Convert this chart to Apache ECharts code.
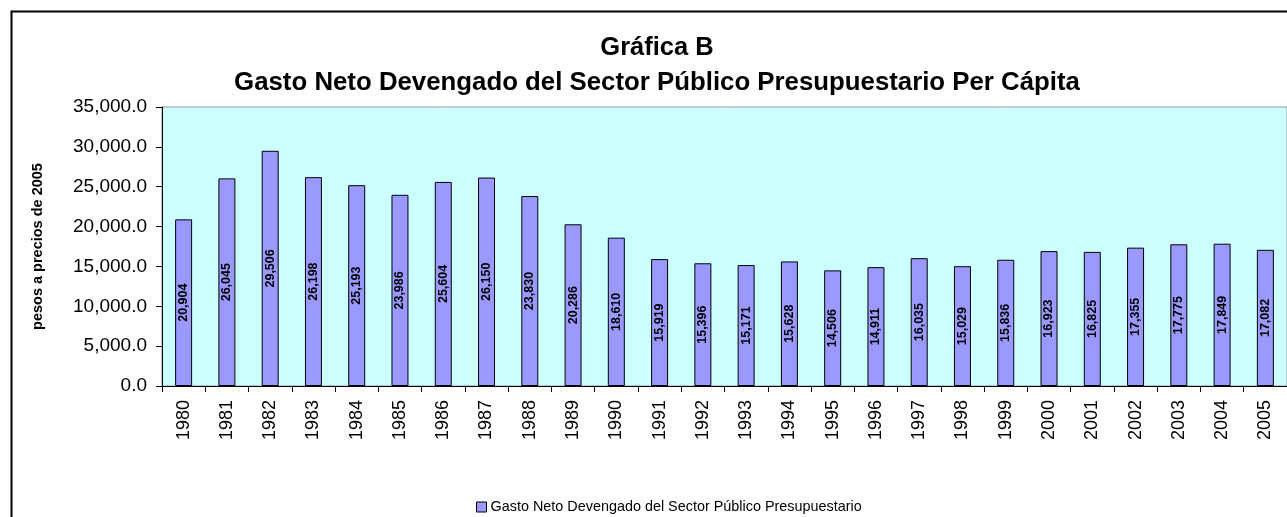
<!DOCTYPE html>
<html>
<head>
<meta charset="utf-8">
<script src="https://cdn.jsdelivr.net/npm/echarts@6/dist/echarts.min.js"></script>
<style>
html,body{margin:0;padding:0;background:#fff;}
#c{width:1287px;height:517px;}
</style>
</head>
<body>
<div id="c"></div>
<script>
const categories = ['1980','1981','1982','1983','1984','1985','1986','1987','1988','1989','1990','1991','1992','1993','1994','1995','1996','1997','1998','1999','2000','2001','2002','2003','2004','2005'];
const values = [20904,26045,29506,26198,25193,23986,25604,26150,23830,20286,18610,15919,15396,15171,15628,14506,14911,16035,15029,15836,16923,16825,17355,17775,17849,17082];
const seriesName = 'Gasto Neto Devengado del Sector Público Presupuestario';
const titleLine1 = 'Gráfica B';
const titleLine2 = 'Gasto Neto Devengado del Sector Público Presupuestario Per Cápita';
const yAxisName = 'pesos a precios de 2005';

const chart = echarts.init(document.getElementById('c'), null, {renderer:'canvas'});
const FONT = 'Liberation Sans, Arial, sans-serif';
chart.setOption({
  animation:false,
  backgroundColor:'#ffffff',
  textStyle:{fontFamily:FONT},
  graphic:[{
    type:'rect', left:9, top:9, shape:{x:0,y:0,width:1300,height:530},
    style:{fill:'none', stroke:'#000', lineWidth:2}, z:100, silent:true
  }],
  title:[
    {text:titleLine1, left:652, top:30, textAlign:'center',
     textStyle:{fontFamily:FONT,fontWeight:'bold',fontSize:25.5,color:'#000'}},
    {text:titleLine2, left:652, top:65, textAlign:'center',
     textStyle:{fontFamily:FONT,fontWeight:'bold',fontSize:25.8,color:'#000'}}
  ],
  legend:{
    data:[seriesName], top:495, left:471, itemWidth:10, itemHeight:10, itemGap:4,
    icon:'rect',
    textStyle:{fontFamily:FONT,fontSize:14.4,color:'#000',padding:[0,0,0,-1]},
    itemStyle:{borderColor:'#000',borderWidth:1}
  },
  grid:{left:162, top:107, width:1126, bottom:131, show:true, backgroundColor:'#CCFFFF',
        borderColor:'#999', borderWidth:1, containLabel:false},
  xAxis:{
    type:'category', data:categories, boundaryGap:true,
    axisLine:{lineStyle:{color:'#000',width:1}},
    axisTick:{show:true, alignWithLabel:false, length:6, lineStyle:{color:'#000'}},
    axisLabel:{rotate:90, margin:14, fontFamily:FONT, fontSize:18, color:'#000'}
  },
  yAxis:{
    type:'value', min:0, max:35000, interval:5000,
    name:yAxisName, nameLocation:'middle', nameGap:117, nameRotate:90,
    nameTextStyle:{fontFamily:FONT,fontWeight:'bold',fontSize:14.5,color:'#000'},
    axisLine:{show:true, lineStyle:{color:'#000',width:1}},
    axisTick:{show:true, length:6, lineStyle:{color:'#000'}},
    splitLine:{show:false},
    axisLabel:{margin:15, fontFamily:FONT, fontSize:19, color:'#000',
      formatter:v=>v.toLocaleString('en-US',{minimumFractionDigits:1,maximumFractionDigits:1})}
  },
  series:[{
    name:seriesName, type:'bar', data:values, barWidth:17,
    itemStyle:{color:'#9999FF', borderColor:'#000', borderWidth:1},
    label:{show:true, position:'inside', rotate:90, fontFamily:FONT, fontWeight:'bold', fontSize:12.5, color:'#000',
      formatter:p=>p.value.toLocaleString('en-US')}
  }]
});
</script>
</body>
</html>
